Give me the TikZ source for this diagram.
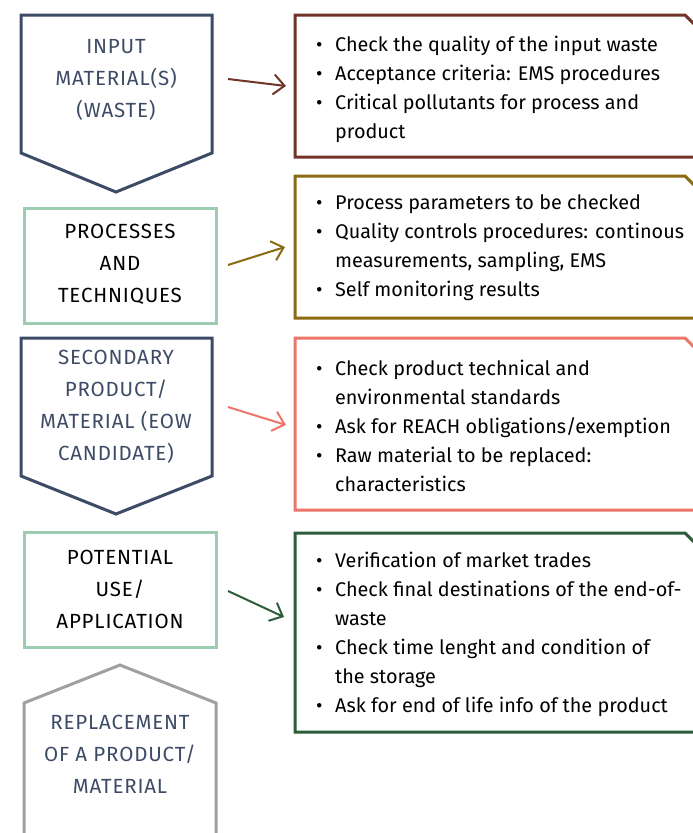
\documentclass[tikz,border=0pt]{standalone}
\usepackage{fontspec}
\setmainfont{Fira Sans}
\newfontfamily\capsfont[LetterSpace=4]{Fira Sans}
\usetikzlibrary{arrows.meta}

\definecolor{navy}{RGB}{61,75,102}
\definecolor{mint}{RGB}{157,205,176}
\definecolor{rust}{RGB}{112,53,40}
\definecolor{ochre}{RGB}{139,107,18}
\definecolor{salmon}{RGB}{236,118,103}
\definecolor{forest}{RGB}{44,92,58}
\definecolor{stone}{RGB}{160,160,160}

\tikzset{
  frame/.style={line width=3pt},
  captxt/.style={font=\capsfont\fontsize{20.5}{32}\selectfont, align=center, inner sep=0pt},
  listtxt/.style={font=\fontsize{19.8}{29}\selectfont, align=left, anchor=west, inner sep=0pt},
  link/.style={line width=2pt, -{Straight Barb[length=11pt,width=20pt]}}
}
% bullet line and its continuation
\newcommand{\itm}[1]{\makebox[19pt][l]{\textbullet}#1}
\newcommand{\cnt}[1]{\hspace*{19pt}#1}

\begin{document}
\begin{tikzpicture}[x=1pt,y=-1pt]
  \useasboundingbox (0,0) rectangle (693,833);
  \fill[white] (0,0) rectangle (693,833);
  \clip (0,0) rectangle (693,833);

  % left column: stages
  \draw[frame, navy] (21,15) -- (212,15) -- (212,153) -- (116,192) -- (21,153) -- cycle;
  \node[captxt, text=navy] (input) at (116,80) {INPUT\\MATERIAL(S)\\(WASTE)};

  \draw[frame, mint] (24,208) rectangle (216,323);
  \node[captxt] (proc) at (120,264) {PROCESSES\\AND\\TECHNIQUES};

  \draw[frame, navy] (21,338) -- (212,338) -- (212,476) -- (116,514) -- (21,476) -- cycle;
  \node[captxt, text=navy] (second) at (116,407) {SECONDARY\\PRODUCT/\\MATERIAL (EOW\\CANDIDATE)};

  \draw[frame, mint] (24,532) rectangle (216,647);
  \node[captxt] (use) at (120,589) {POTENTIAL\\USE/\\APPLICATION};

  \draw[frame, stone] (24,850) -- (24,703) -- (120,665) -- (216,703) -- (216,850);
  \node[captxt, text=navy] (replace) at (120,754) {REPLACEMENT\\OF A PRODUCT/\\MATERIAL};

  % right column: check lists (cut corner at top right)
  \foreach \ytop/\ybot/\col in {15/157/rust, 176/318/ochre, 338/510/salmon, 533/732/forest} {
    \draw[frame, \col] (295,\ytop) -- (685,\ytop) -- (696,\ytop+11) -- (696,\ybot) -- (295,\ybot) -- cycle;
  }

  \node[listtxt] (chk1) at (316,89)
    {\itm{Check the quality of the input waste}\\
     \itm{Acceptance criteria: EMS procedures}\\
     \itm{Critical pollutants for process and}\\
     \cnt{product}};
  \node[listtxt] (chk2) at (316,248)
    {\itm{Process parameters to be checked}\\
     \itm{Quality controls procedures: continous}\\
     \cnt{measurements, sampling, EMS}\\
     \itm{Self monitoring results}};
  \node[listtxt] (chk3) at (316,426)
    {\itm{Check product technical and}\\
     \cnt{environmental standards}\\
     \itm{Ask for REACH obligations/exemption}\\
     \itm{Raw material to be replaced:}\\
     \cnt{characteristics}};
  \node[listtxt] (chk4) at (316,634)
    {\itm{Verification of market trades}\\
     \itm{Check final destinations of the end-of-}\\
     \cnt{waste}\\
     \itm{Check time lenght and condition of}\\
     \cnt{the storage}\\
     \itm{Ask for end of life info of the product}};

  % arrows from stages to check lists
  \coordinate (a1s) at (228,79);  \coordinate (a1e) at (286,86);
  \coordinate (a2s) at (228,265); \coordinate (a2e) at (285,247);
  \coordinate (a3s) at (228,407); \coordinate (a3e) at (286,425);
  \coordinate (a4s) at (228,591); \coordinate (a4e) at (284,617);
  \draw[link, rust] (a1s) -- (a1e);
  \draw[link, ochre] (a2s) -- (a2e);
  \draw[link, salmon] (a3s) -- (a3e);
  \draw[link, forest] (a4s) -- (a4e);
\end{tikzpicture}
\end{document}
